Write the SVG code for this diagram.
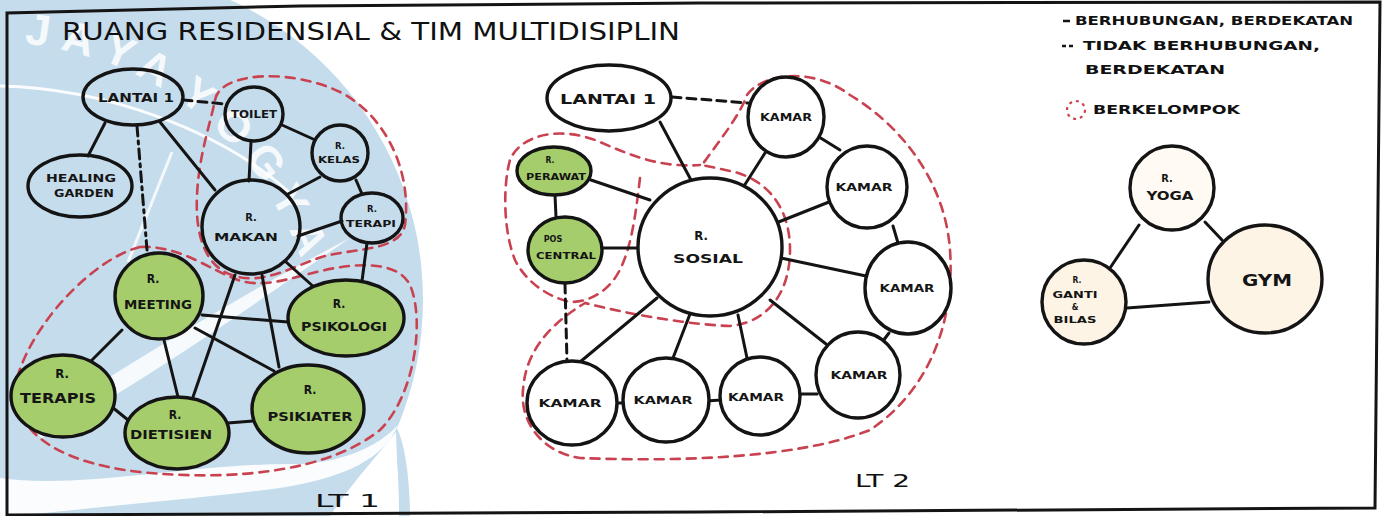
<svg xmlns="http://www.w3.org/2000/svg" width="1389" height="516" viewBox="0 0 1389 516">
<style>
.n{stroke:#141414;stroke-width:3.4}
.w{fill:#ffffff}.g{fill:#a5cd6c}.t{fill:none}.c{fill:#fdf4e6}.c2{fill:#fffaf3}
.e{stroke:#141414;stroke-width:3;fill:none;stroke-linecap:round}
.d{stroke-dasharray:9 6}
.dd{stroke-dasharray:10 5 3 5}
.grp{fill:none;stroke:#c9424f;stroke-width:2.6;stroke-dasharray:9 7;stroke-linecap:round}
.l{font-family:"DejaVu Sans Condensed","DejaVu Sans",sans-serif;font-weight:bold;fill:#151515;text-anchor:middle}
.h{font-family:"DejaVu Sans Condensed","DejaVu Sans",sans-serif;fill:#111;}
.lg{font-family:"DejaVu Sans Condensed","DejaVu Sans",sans-serif;font-weight:bold;fill:#111;}
.wm{font-family:"Liberation Sans",sans-serif;font-weight:bold;font-size:44px;fill:#ffffff;opacity:0.85;text-anchor:middle}
</style>
<rect width="1389" height="516" fill="#ffffff"/>
<g id="watermark">
<circle cx="93" cy="300" r="330" fill="#c5dcec"/>
<path d="M395 425 C405 440 410 480 410 516 L399 516 C399 480 397 450 392 432 Z" fill="#c5dcec"/>
<path d="M330 516 C350 485 378 455 396 432 L399 516 Z" fill="#ffffff"/>
<path d="M0 478 C80 490 200 462 300 464 C345 462 380 445 398 425 C385 458 345 478 280 488 C190 500 100 506 20 516 L0 516 Z" fill="#ffffff" opacity="0.9"/>
<path d="M30 428 C150 350 250 290 350 238 C260 300 160 372 42 438 Z" fill="#ffffff" opacity="0.85"/>
<path d="M0 86 C100 88 220 128 292 195" fill="none" stroke="#ffffff" stroke-width="3" opacity="0.9"/>
<path d="M172 152 L128 262" fill="none" stroke="#ffffff" stroke-width="3" opacity="0.8"/>
<text class="wm" transform="translate(36 45) rotate(8)">J</text>
<text class="wm" transform="translate(75 53) rotate(15)">A</text>
<text class="wm" transform="translate(114 65) rotate(22)">Y</text>
<text class="wm" transform="translate(148 81) rotate(28.5)">A</text>
<text class="wm" transform="translate(189 107) rotate(37)">Y</text>
<text class="wm" transform="translate(223 137) rotate(45)">O</text>
<text class="wm" transform="translate(254 171) rotate(53)">G</text>
<text class="wm" transform="translate(277 208) rotate(60.5)">Y</text>
<text class="wm" transform="translate(295 244) rotate(67.5)">A</text>
</g>
<g id="frame" fill="none" stroke="#141414" stroke-width="3">
<path d="M7 516 L7 13 L300 6 L700 3 L1380 2 L1375 508 L700 512 L7 515"/>
</g>
<text class="h" x="62" y="40" font-size="24" textLength="618" lengthAdjust="spacingAndGlyphs">RUANG RESIDENSIAL &amp; TIM MULTIDISIPLIN</text>
<g id="legend">
<line x1="1063" y1="21" x2="1070" y2="21" stroke="#141414" stroke-width="2.5"/>
<text class="lg" x="1075" y="25" font-size="12" textLength="278" lengthAdjust="spacingAndGlyphs">BERHUBUNGAN, BERDEKATAN</text>
<line x1="1062" y1="46" x2="1076" y2="46" stroke="#141414" stroke-width="2.5" stroke-dasharray="4 3"/>
<text class="lg" x="1083" y="50" font-size="12" textLength="237" lengthAdjust="spacingAndGlyphs">TIDAK BERHUBUNGAN,</text>
<text class="lg" x="1085" y="74" font-size="12" textLength="140" lengthAdjust="spacingAndGlyphs">BERDEKATAN</text>
<circle cx="1076" cy="110" r="9" fill="none" stroke="#c9424f" stroke-width="2.2" stroke-dasharray="3 4"/>
<text class="lg" x="1093" y="114" font-size="12" textLength="147" lengthAdjust="spacingAndGlyphs">BERKELOMPOK</text>
</g>
<g id="groups">
<path class="grp" d="M215 100 C220 72 290 68 340 92 C385 115 412 170 405 225 C400 250 360 248 325 256 C295 265 265 285 235 276 C205 268 195 235 197 195 C199 155 210 125 215 100 Z"/>
<path class="grp" d="M140 247 C95 258 35 320 18 375 C5 425 50 462 140 472 C240 482 330 470 380 430 C415 395 425 320 410 285 C400 265 370 262 335 268 C300 274 268 290 238 280 C210 270 180 245 140 247 Z"/>
<path class="grp" d="M640 178 C635 220 630 260 612 282 C600 296 585 302 570 302 C545 296 525 280 515 260 C503 230 503 185 510 160 C520 135 560 125 600 142 C630 155 660 168 700 165"/>
<path class="grp" d="M747 95 C760 75 810 65 850 95 C900 125 945 180 950 250 C955 320 930 390 870 430 C800 458 680 462 580 458 C540 452 520 420 523 390 C525 360 540 330 585 303 C620 312 680 324 730 326 C770 322 790 290 790 250 C790 210 770 182 735 172 L702 165 C720 140 740 115 747 95 Z"/>
</g>
<g id="connectors">
<line class="e" x1="105" y1="123" x2="88" y2="156"/>
<line class="e" x1="160" y1="122" x2="215" y2="190"/>
<line class="e d" x1="183" y1="100" x2="225" y2="104"/>
<line class="e dd" x1="137" y1="126" x2="147" y2="250"/>
<line class="e" x1="251" y1="142" x2="249" y2="181"/>
<line class="e" x1="282" y1="125" x2="313" y2="139"/>
<line class="e" x1="320" y1="177" x2="288" y2="194"/>
<line class="e" x1="356" y1="180" x2="362" y2="194"/>
<line class="e" x1="298" y1="236" x2="342" y2="221"/>
<line class="e" x1="367" y1="243" x2="362" y2="281"/>
<line class="e" x1="286" y1="262" x2="315" y2="288"/>
<line class="e" x1="235" y1="275" x2="193" y2="397"/>
<line class="e" x1="262" y1="275" x2="279" y2="367"/>
<line class="e" x1="202" y1="315" x2="288" y2="322"/>
<line class="e" x1="195" y1="328" x2="274" y2="371"/>
<line class="e" x1="122" y1="330" x2="92" y2="360"/>
<line class="e" x1="164" y1="340" x2="178" y2="397"/>
<line class="e" x1="112" y1="407" x2="128" y2="420"/>
<line class="e" x1="228" y1="423" x2="253" y2="421"/>
<line class="e" x1="660" y1="122" x2="691" y2="180"/>
<line class="e d" x1="672" y1="97" x2="748" y2="103"/>
<line class="e" x1="765" y1="153" x2="744" y2="186"/>
<line class="e" x1="819" y1="137" x2="840" y2="150"/>
<line class="e" x1="829" y1="202" x2="776" y2="223"/>
<line class="e" x1="893" y1="226" x2="898" y2="243"/>
<line class="e" x1="866" y1="276" x2="781" y2="258"/>
<line class="e" x1="889" y1="333" x2="883" y2="341"/>
<line class="e" x1="826" y1="344" x2="770" y2="300"/>
<line class="e" x1="800" y1="394" x2="817" y2="394"/>
<line class="e" x1="747" y1="358" x2="738" y2="315"/>
<line class="e" x1="673" y1="358" x2="690" y2="314"/>
<line class="e" x1="706" y1="401" x2="721" y2="400"/>
<line class="e" x1="616" y1="403" x2="624" y2="403"/>
<line class="e" x1="580" y1="362" x2="657" y2="298"/>
<line class="e d" x1="565" y1="284" x2="567" y2="362"/>
<line class="e" x1="555" y1="195" x2="556" y2="217"/>
<line class="e" x1="591" y1="180" x2="650" y2="200"/>
<line class="e" x1="602" y1="248" x2="638" y2="248"/>
<line class="e" x1="1139" y1="225" x2="1110" y2="268"/>
<line class="e" x1="1205" y1="222" x2="1222" y2="240"/>
<line class="e" x1="1127" y1="308" x2="1209" y2="302"/>
</g>
<g id="lt1-lantai1"><ellipse class="n t" cx="133" cy="97" rx="50" ry="28"/><text class="l" x="136" y="102" font-size="12" textLength="76" lengthAdjust="spacingAndGlyphs">LANTAI 1</text></g>
<g id="lt1-garden"><ellipse class="n t" cx="80" cy="186" rx="52" ry="31"/><text class="l" x="81" y="182" font-size="10" textLength="70" lengthAdjust="spacingAndGlyphs">HEALING</text><text class="l" x="84" y="197" font-size="10" textLength="60" lengthAdjust="spacingAndGlyphs">GARDEN</text></g>
<g id="lt1-toilet"><ellipse class="n t" cx="254" cy="114" rx="29" ry="27"/><text class="l" x="254" y="118" font-size="10" textLength="46" lengthAdjust="spacingAndGlyphs">TOILET</text></g>
<g id="lt1-kelas"><ellipse class="n t" cx="340" cy="153" rx="28" ry="28"/><text class="l" x="340" y="149" font-size="9.5">R.</text><text class="l" x="339" y="163" font-size="9.5" textLength="42" lengthAdjust="spacingAndGlyphs">KELAS</text></g>
<g id="lt1-terapi"><ellipse class="n t" cx="372" cy="218" rx="31" ry="25"/><text class="l" x="372" y="212" font-size="9.5">R.</text><text class="l" x="371" y="227" font-size="9.5" textLength="50" lengthAdjust="spacingAndGlyphs">TERAPI</text></g>
<g id="lt1-makan"><ellipse class="n t" cx="251" cy="227" rx="49" ry="47"/><text class="l" x="251" y="221" font-size="11">R.</text><text class="l" x="246" y="241" font-size="11" textLength="64" lengthAdjust="spacingAndGlyphs">MAKAN</text></g>
<g id="lt1-meeting"><ellipse class="n g" cx="159" cy="296" rx="44" ry="43"/><text class="l" x="153" y="283" font-size="12">R.</text><text class="l" x="158" y="309" font-size="12" textLength="68" lengthAdjust="spacingAndGlyphs">MEETING</text></g>
<g id="lt1-psikologi"><ellipse class="n g" cx="346" cy="318" rx="58" ry="38"/><text class="l" x="339" y="308" font-size="12">R.</text><text class="l" x="344" y="331" font-size="12" textLength="86" lengthAdjust="spacingAndGlyphs">PSIKOLOGI</text></g>
<g id="lt1-terapis"><ellipse class="n g" cx="63" cy="396" rx="52" ry="41"/><text class="l" x="62" y="378" font-size="13">R.</text><text class="l" x="58" y="403" font-size="14" textLength="76" lengthAdjust="spacingAndGlyphs">TERAPIS</text></g>
<g id="lt1-dietisien"><ellipse class="n g" cx="177" cy="433" rx="52" ry="36"/><text class="l" x="175" y="419" font-size="12">R.</text><text class="l" x="171" y="439" font-size="12" textLength="82" lengthAdjust="spacingAndGlyphs">DIETISIEN</text></g>
<g id="lt1-psikiater"><ellipse class="n g" cx="308" cy="409" rx="56" ry="44"/><text class="l" x="310" y="394" font-size="12">R.</text><text class="l" x="310" y="421" font-size="13" textLength="85" lengthAdjust="spacingAndGlyphs">PSIKIATER</text></g>
<g id="lt2-lantai1"><ellipse class="n w" cx="609" cy="98" rx="62" ry="33"/><text class="l" x="608" y="104" font-size="14" textLength="96" lengthAdjust="spacingAndGlyphs">LANTAI 1</text></g>
<g id="lt2-kamar1"><ellipse class="n w" cx="786" cy="117" rx="38" ry="40"/><text class="l" x="786" y="121" font-size="10" textLength="52" lengthAdjust="spacingAndGlyphs">KAMAR</text></g>
<g id="lt2-kamar2"><ellipse class="n w" cx="867" cy="187" rx="40" ry="41"/><text class="l" x="864" y="191" font-size="10" textLength="57" lengthAdjust="spacingAndGlyphs">KAMAR</text></g>
<g id="lt2-kamar3"><ellipse class="n w" cx="908" cy="288" rx="43" ry="46"/><text class="l" x="907" y="292" font-size="10" textLength="55" lengthAdjust="spacingAndGlyphs">KAMAR</text></g>
<g id="lt2-kamar4"><ellipse class="n w" cx="858" cy="375" rx="42" ry="43"/><text class="l" x="859" y="379" font-size="10.5" textLength="57" lengthAdjust="spacingAndGlyphs">KAMAR</text></g>
<g id="lt2-kamar5"><ellipse class="n w" cx="760" cy="396" rx="40" ry="39"/><text class="l" x="756" y="401" font-size="10.5" textLength="56" lengthAdjust="spacingAndGlyphs">KAMAR</text></g>
<g id="lt2-kamar6"><ellipse class="n w" cx="666" cy="400" rx="43" ry="42"/><text class="l" x="663" y="404" font-size="10.5" textLength="59" lengthAdjust="spacingAndGlyphs">KAMAR</text></g>
<g id="lt2-kamar7"><ellipse class="n w" cx="572" cy="403" rx="45" ry="42"/><text class="l" x="570" y="407" font-size="10.5" textLength="63" lengthAdjust="spacingAndGlyphs">KAMAR</text></g>
<g id="lt2-sosial"><ellipse class="n w" cx="710" cy="247" rx="72" ry="69"/><text class="l" x="701" y="240" font-size="13">R.</text><text class="l" x="708" y="263" font-size="13" textLength="70" lengthAdjust="spacingAndGlyphs">SOSIAL</text></g>
<g id="lt2-perawat"><ellipse class="n g" cx="554" cy="171" rx="37" ry="24"/><text class="l" x="550" y="163" font-size="8.5">R.</text><text class="l" x="556" y="180" font-size="8.5" textLength="60" lengthAdjust="spacingAndGlyphs">PERAWAT</text></g>
<g id="lt2-pos"><ellipse class="n g" cx="565" cy="250" rx="37" ry="33"/><text class="l" x="553" y="242" font-size="9">POS</text><text class="l" x="566" y="259" font-size="9" textLength="60" lengthAdjust="spacingAndGlyphs">CENTRAL</text></g>
<g id="yoga"><ellipse class="n c2" cx="1172" cy="188" rx="42" ry="42"/><text class="l" x="1167" y="182" font-size="11">R.</text><text class="l" x="1170" y="200" font-size="12" textLength="47" lengthAdjust="spacingAndGlyphs">YOGA</text></g>
<g id="gym"><ellipse class="n c" cx="1265" cy="279" rx="57" ry="54"/><text class="l" x="1267" y="286" font-size="15" textLength="50" lengthAdjust="spacingAndGlyphs">GYM</text></g>
<g id="ganti"><ellipse class="n c" cx="1084" cy="302" rx="42" ry="42"/><text class="l" x="1077" y="283" font-size="8.5">R.</text><text class="l" x="1075" y="298" font-size="8.5" textLength="45" lengthAdjust="spacingAndGlyphs">GANTI</text><text class="l" x="1075" y="310" font-size="8.5">&amp;</text><text class="l" x="1075" y="323" font-size="8.5" textLength="43" lengthAdjust="spacingAndGlyphs">BILAS</text></g>
<text class="h" x="315" y="507" font-size="18" textLength="65" lengthAdjust="spacingAndGlyphs">LT 1</text>
<text class="h" x="855" y="487" font-size="18" textLength="55" lengthAdjust="spacingAndGlyphs">LT 2</text>
</svg>
